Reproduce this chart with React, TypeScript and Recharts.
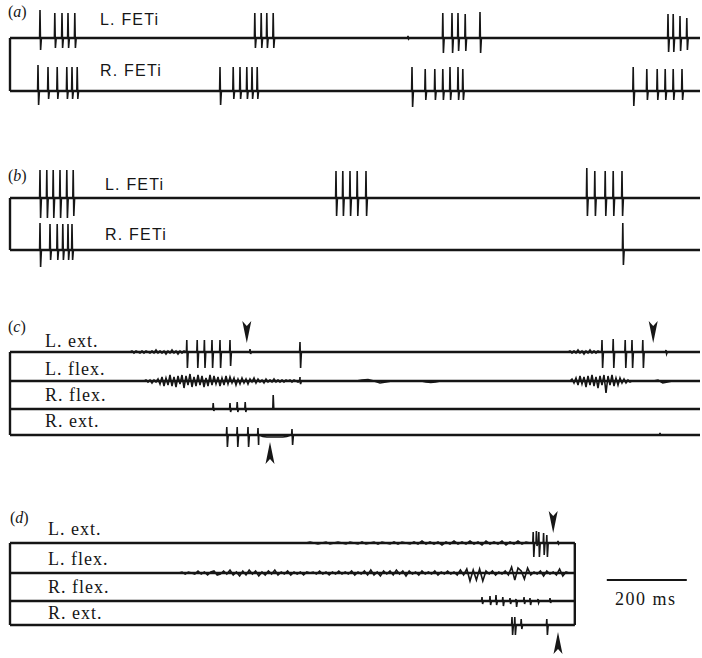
import { LineChart, Line, XAxis, YAxis, ReferenceLine, ReferenceDot } from "recharts";

type Spike = [number, number, number];
type Noise = { t0: number; dt: number; v: number[] };

const X_DOMAIN: [number, number] = [-25, 1730];
const FULL_END = 1725;
const D_END = 1412;

// (a) FETi, both sides
const aLeftSpikes: Spike[] = [
  [75, 28, 12], [112, 25, 10], [130, 25, 10], [145, 25, 10], [162, 25, 10],
  [612, 25, 10], [628, 25, 10], [642, 25, 10], [658, 25, 10],
  [995, 2, 1],
  [1082, 25, 15], [1105, 25, 15], [1120, 25, 13], [1138, 24, 13], [1175, 26, 15],
  [1645, 24, 14], [1658, 24, 14], [1675, 22, 13], [1692, 20, 12],
];
const aRightSpikes: Spike[] = [
  [70, 26, 14], [95, 24, 8], [118, 24, 8], [142, 24, 8], [155, 24, 8], [168, 24, 8],
  [525, 24, 14], [558, 24, 8], [575, 24, 8], [592, 24, 8], [605, 24, 8], [618, 24, 8],
  [1005, 24, 16], [1038, 22, 9], [1062, 22, 9], [1082, 22, 9], [1100, 24, 9], [1120, 24, 9], [1132, 22, 9],
  [1558, 24, 15], [1592, 22, 9], [1618, 22, 9], [1638, 22, 9], [1658, 22, 9], [1680, 22, 9],
];

// (b) FETi
const bLeftSpikes: Spike[] = [
  [75, 28, 20], [92, 28, 20], [108, 28, 20], [125, 28, 20], [142, 28, 20], [158, 28, 18],
  [815, 27, 18], [832, 27, 18], [850, 27, 18], [868, 27, 18], [890, 27, 18],
  [1442, 30, 18], [1462, 27, 18], [1488, 27, 18], [1508, 27, 18], [1530, 27, 18],
];
const bRightSpikes: Spike[] = [
  [75, 27, 17], [100, 26, 10], [118, 26, 10], [132, 26, 10], [145, 26, 10], [155, 26, 10],
  [1532, 27, 15],
];

// (c) EMG
const cLExtSpikes: Spike[] = [
  [442, 12, 16], [468, 12, 16], [486, 12, 16], [505, 12, 16], [525, 12, 16], [550, 12, 14],
  [600, 3, 2], [725, 10, 16],
  [1480, 12, 16], [1508, 13, 16], [1538, 12, 16], [1555, 12, 16], [1582, 12, 16], [1640, 2, 2],
];
const cLExtNoise: Noise[] = [
  { t0: 300, dt: 5, v: [0, 1, -1, 1, 0, -1, 1, -1, 1, 0, -1, 1, -1, 2, -1, 1, -1, 1, -2, 1, -1, 2, -1, 1, -2, 1, -1, 1] },
  { t0: 1400, dt: 5, v: [1, -1, 1, -1, 2, -1, 1, -2, 1, -1, 2, -1, 1, -1, 1] },
];
const cLFlexSpikes: Spike[] = [[725, 4, 3]];
const cLFlexNoise: Noise[] = [
  {
    t0: 340, dt: 5,
    v: [1, -1, 1, -2, 1, -1, 2,
      -3, 4, -5, 3, -4, 6, -5, 4, -6, 5, -3, 6, -7, 5, -4, 7, -6, 4, -5, 6, -4, 5, -6, 3, -5, 6, -4, 5, -3, 4,
      -5, 3, -4, 5, -3, 4, -2, 3, -4, 2, -3,
      3, -2, 2, -3, 2, -1, 3, -2, 2, -1, 1, -2, 2, -1, 1, -1, 2, -1, 1, -1, 1, -1, 1, 0, 1, -1, 1, 0, -1, 0],
  },
  { t0: 880, dt: 15, v: [1, 1.5, 0, -2, -1, 0] },
  { t0: 1040, dt: 12, v: [-1, -1.5, -1] },
  {
    t0: 1405, dt: 5,
    v: [2, -2, 3, -4, 5, -3, 4, -6, 5, -4, 6, -5, 4, -7, 5, -4, 6, -12, 5, -4, 6, -5, 3, -4, 3, -2, 2, -2, 1, -1],
  },
  { t0: 1620, dt: 12, v: [1, -2, -1] },
];
const cRFlexSpikes: Spike[] = [[508, 6, 2], [550, 6, 3], [568, 7, 3], [588, 7, 3], [658, 14, 0]];
const cRExtSpikes: Spike[] = [[542, 8, 12], [568, 8, 12], [595, 8, 12], [620, 7, 10], [705, 6, 10], [1625, 2, 0]];
const cRExtNoise: Noise[] = [{ t0: 632, dt: 10, v: [-1.5, -2, -2, -2, -2, -2, -1.5] }];

// (d) EMG
const dLExtSpikes: Spike[] = [[1308, 11, 14], [1316, 12, 3], [1322, 11, 14], [1334, 10, 12], [1342, 8, 14], [1370, 2, 1]];
const dLExtNoise: Noise[] = [
  {
    t0: 740, dt: 10,
    v: [0, 1, 0, -1, 0, 1, -1, 0, 1, 0, -1, 1, 0, -1, 1, -1, 0, 1, -1, 1, 0, -1, 1, -1, 1, 0, -1, 1,
      -1, 2, -1, 1, -1, 1, -2, 1, -1, 2, -1, 1, -1, 2, -1, 1, -2, 2, -1, 1, -1, 2, -2, 1, -1, 2, -1, 1],
  },
];
const dLFlexNoise: Noise[] = [
  {
    t0: 430, dt: 8,
    v: [1, -1, 1, 0, -1, 2, -1, 1, -2, 1, 2, -2, -1, 2, -1, 3, -2, 1, -3, 2,
      -2, 3, -1, 2, -3, 1, -2, 2, -1, 3, -2, 1, -1, 2, -2, 1, -1, 1, -2, 1,
      0, 1, -1, 2, -1, 1, -2, 1, -1, 2, -1, 1, -1, 2, -2, 1, -1, 2, -2, 3,
      -2, 1, -3, 2, -1, 2, -2, 3, -1, 2, -3, 2, -1, 1, -2, 2, -1, 1, -1, 2,
      -2, 1, -1, 2, -1, 1, -2, 3, -2, 4, -8, 3, -7, 4, -8, 2, -1, 2, -2, 1,
      -1, 2, -2, 6, -7, 5, 2, -6, 5, -2, 1, -1, 2, -3, 2, -1, 1, -2, 4, -3, 1, 0],
  },
];
const dRFlexSpikes: Spike[] = [
  [1180, 4, 3], [1200, 5, 4], [1215, 6, 4], [1232, 4, 5], [1250, 3, 3], [1265, 2, 6],
  [1285, 4, 3], [1300, 3, 4], [1320, 2, 2], [1350, 3, 2],
];
const dRExtSpikes: Spike[] = [[1255, 8, 10], [1262, 8, 10], [1278, 6, 4], [1342, 6, 10]];

function buildTrace(spikes: Spike[], noise: Noise[], end: number) {
  const ev: { t: number; v: number }[] = [];
  spikes.forEach(([t, up, down]) => {
    ev.push({ t: t - 1, v: 0 }, { t, v: up }, { t: t + 1.5, v: -down }, { t: t + 3.5, v: 0 });
  });
  noise.forEach(({ t0, dt, v }) => {
    ev.push({ t: t0 - dt, v: 0 });
    v.forEach((y, i) => ev.push({ t: t0 + i * dt, v: y }));
    ev.push({ t: t0 + v.length * dt, v: 0 });
  });
  ev.sort((a, b) => a.t - b.t);
  return [{ t: 0, v: 0 }, ...ev, { t: end, v: 0 }];
}

type Trace = { base: number; spikes: Spike[]; noise?: Noise[] };
type Arrow = { trace: number; t: number; dir: "down" | "up"; gap: number };

const INK = "#161616";

function arrowShape(dir: "down" | "up") {
  return (p: any) => {
    const s = dir === "down" ? -1 : 1;
    return (
      <path
        d={`M0,0 L-4.5,${22 * s} L0,${17 * s} L4.5,${22 * s} Z`}
        transform={`translate(${p.cx},${p.cy})`}
        fill={INK}
      />
    );
  };
}

function Panel({ top, height, traces, end, arrows = [], closeRight = false, scaleBar }: {
  top: number;
  height: number;
  traces: Trace[];
  end: number;
  arrows?: Arrow[];
  closeRight?: boolean;
  scaleBar?: { from: number; to: number; y: number };
}) {
  const off = (base: number) => top + height - base;
  const first = off(traces[0].base);
  const last = off(traces[traces.length - 1].base);
  const bars = [[{ t: 0, v: first }, { t: 0, v: last }]];
  if (closeRight) bars.push([{ t: end, v: first }, { t: end, v: last }]);
  return (
    <div style={{ position: "absolute", left: 0, top }}>
      <LineChart width={702} height={height} margin={{ top: 0, right: 0, bottom: 0, left: 0 }}>
        <XAxis type="number" dataKey="t" domain={X_DOMAIN} hide allowDataOverflow />
        <YAxis type="number" domain={[0, height]} hide allowDataOverflow />
        {bars.map((b, i) => (
          <Line key={`bar${i}`} data={b} dataKey="v" stroke={INK} strokeWidth={2.4} dot={false} activeDot={false} isAnimationActive={false} />
        ))}
        {traces.map((tr, i) => (
          <Line
            key={`base${i}`}
            data={[{ t: 0, v: off(tr.base) }, { t: end, v: off(tr.base) }]}
            dataKey="v"
            stroke={INK}
            strokeWidth={2.4}
            dot={false}
            activeDot={false}
            isAnimationActive={false}
          />
        ))}
        {traces.map((tr, i) => (
          <Line
            key={`tr${i}`}
            data={buildTrace(tr.spikes, tr.noise ?? [], end).map((p) => ({ t: p.t, v: p.v + off(tr.base) }))}
            dataKey="v"
            type="linear"
            stroke={INK}
            strokeWidth={1.6}
            dot={false}
            activeDot={false}
            isAnimationActive={false}
          />
        ))}
        {scaleBar && (
          <ReferenceLine
            segment={[{ x: scaleBar.from, y: off(scaleBar.y) }, { x: scaleBar.to, y: off(scaleBar.y) }]}
            stroke={INK}
            strokeWidth={2}
          />
        )}
        {arrows.map((a, i) => (
          <ReferenceDot
            key={i}
            x={a.t}
            y={off(traces[a.trace].base) + (a.dir === "down" ? a.gap : -a.gap)}
            r={0}
            shape={arrowShape(a.dir)}
            ifOverflow="visible"
          />
        ))}
      </LineChart>
    </div>
  );
}

const SANS = "'Liberation Sans', Arial, sans-serif";
const SERIF = "'Liberation Serif', 'Times New Roman', serif";

const feti = [
  { text: "L. FETi", x: 100, y: 25 },
  { text: "R. FETi", x: 100, y: 76 },
  { text: "L. FETi", x: 105, y: 190 },
  { text: "R. FETi", x: 105, y: 240 },
];
const emg = [
  { text: "L. ext.", x: 45, y: 347 },
  { text: "L. flex.", x: 45, y: 375 },
  { text: "R. flex.", x: 45, y: 401 },
  { text: "R. ext.", x: 45, y: 427 },
  { text: "L. ext.", x: 48, y: 535 },
  { text: "L. flex.", x: 48, y: 565 },
  { text: "R. flex.", x: 48, y: 593 },
  { text: "R. ext.", x: 48, y: 619 },
];
const panelTags = [
  { l: "a", x: 8, y: 17 },
  { l: "b", x: 8, y: 181 },
  { l: "c", x: 8, y: 332 },
  { l: "d", x: 10, y: 523 },
];

export default function App() {
  return (
    <div style={{ position: "relative", width: 702, height: 658, background: "#fff", overflow: "hidden" }}>
      <style>{"body{margin:0}"}</style>
      <Panel
        top={0}
        height={115}
        end={FULL_END}
        traces={[{ base: 38, spikes: aLeftSpikes }, { base: 91, spikes: aRightSpikes }]}
      />
      <Panel
        top={150}
        height={125}
        end={FULL_END}
        traces={[{ base: 198, spikes: bLeftSpikes }, { base: 250, spikes: bRightSpikes }]}
      />
      <Panel
        top={310}
        height={165}
        end={FULL_END}
        traces={[
          { base: 352, spikes: cLExtSpikes, noise: cLExtNoise },
          { base: 381, spikes: cLFlexSpikes, noise: cLFlexNoise },
          { base: 409, spikes: cRFlexSpikes },
          { base: 435, spikes: cRExtSpikes, noise: cRExtNoise },
        ]}
        arrows={[
          { trace: 0, t: 592, dir: "down", gap: 9 },
          { trace: 0, t: 1608, dir: "down", gap: 9 },
          { trace: 3, t: 650, dir: "up", gap: 7 },
        ]}
      />
      <Panel
        top={495}
        height={163}
        end={D_END}
        closeRight
        traces={[
          { base: 543, spikes: dLExtSpikes, noise: dLExtNoise },
          { base: 573, spikes: [], noise: dLFlexNoise },
          { base: 601, spikes: dRFlexSpikes },
          { base: 625, spikes: dRExtSpikes },
        ]}
        arrows={[
          { trace: 0, t: 1358, dir: "down", gap: 10 },
          { trace: 3, t: 1370, dir: "up", gap: 7 },
        ]}
        scaleBar={{ from: 1492, to: 1692, y: 580 }}
      />
      <svg width={702} height={658} style={{ position: "absolute", left: 0, top: 0, pointerEvents: "none" }}>
        {panelTags.map((p) => (
          <text key={p.l} x={p.x} y={p.y} fontFamily={SERIF} fontSize={16} fill={INK}>
            (<tspan fontStyle="italic">{p.l}</tspan>)
          </text>
        ))}
        {feti.map((f, i) => (
          <text key={i} x={f.x} y={f.y} fontFamily={SANS} fontSize={16} letterSpacing={1.2} fill={INK}>
            {f.text}
          </text>
        ))}
        {emg.map((f, i) => (
          <text key={i} x={f.x} y={f.y} fontFamily={SERIF} fontSize={18} letterSpacing={1} fill={INK}>
            {f.text}
          </text>
        ))}
        <text x={615} y={605} fontFamily={SERIF} fontSize={18} letterSpacing={1.5} fill={INK}>
          200 ms
        </text>
      </svg>
    </div>
  );
}
